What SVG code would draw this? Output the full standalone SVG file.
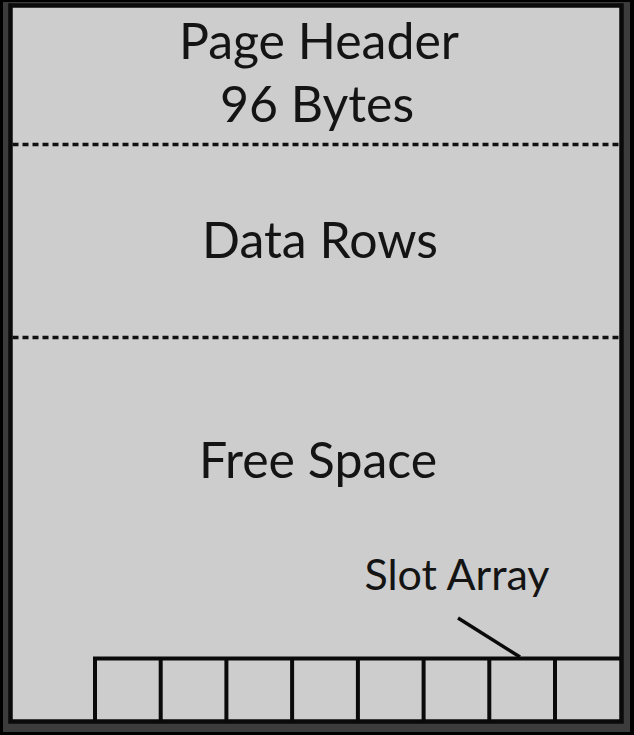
<svg xmlns="http://www.w3.org/2000/svg" width="634" height="735" viewBox="0 0 634 735">
<style>
.lbl{font-family:Lato,"Open Sans","Liberation Sans",sans-serif;fill:#141414;text-anchor:middle}
.big{font-size:50px}
.sm{font-size:43px}
.frame{fill:#cdcdcd;stroke:#0a0a0a;stroke-width:4.5}
.dash{stroke:#111;stroke-width:3.5;stroke-dasharray:6 4;fill:none}
.cell{fill:none;stroke:#0a0a0a;stroke-width:4}
</style>
<rect x="0" y="0" width="634" height="735" fill="#000"/>
<rect x="3" y="2" width="627" height="730" fill="#3c3c3c"/>
<g id="page">
<rect class="frame" x="10.5" y="5.5" width="611" height="716"/>
</g>
<g id="header">
<text class="lbl big" x="319" y="59">Page Header</text>
<text class="lbl big" x="317" y="122">96 Bytes</text>
</g>
<g id="datarows">
<text class="lbl big" x="320" y="258">Data Rows</text>
</g>
<g id="freespace">
<text class="lbl big" x="318" y="478">Free Space</text>
</g>
<g id="slotarray">
<text class="lbl sm" x="457" y="590">Slot Array</text>
<path class="cell" d="M95 721.5V658.5H621.5M160.7 658.5V721.5M226.4 658.5V721.5M292.1 658.5V721.5M357.9 658.5V721.5M423.6 658.5V721.5M489.3 658.5V721.5M555 658.5V721.5"/>
</g>
<g id="connectors">
<line class="dash" x1="12.5" y1="144.5" x2="619.5" y2="144.5"/>
<line class="dash" x1="12.5" y1="337.5" x2="619.5" y2="337.5"/>
<line x1="458" y1="618" x2="520" y2="657" stroke="#0a0a0a" stroke-width="3.5"/>
</g>
</svg>
